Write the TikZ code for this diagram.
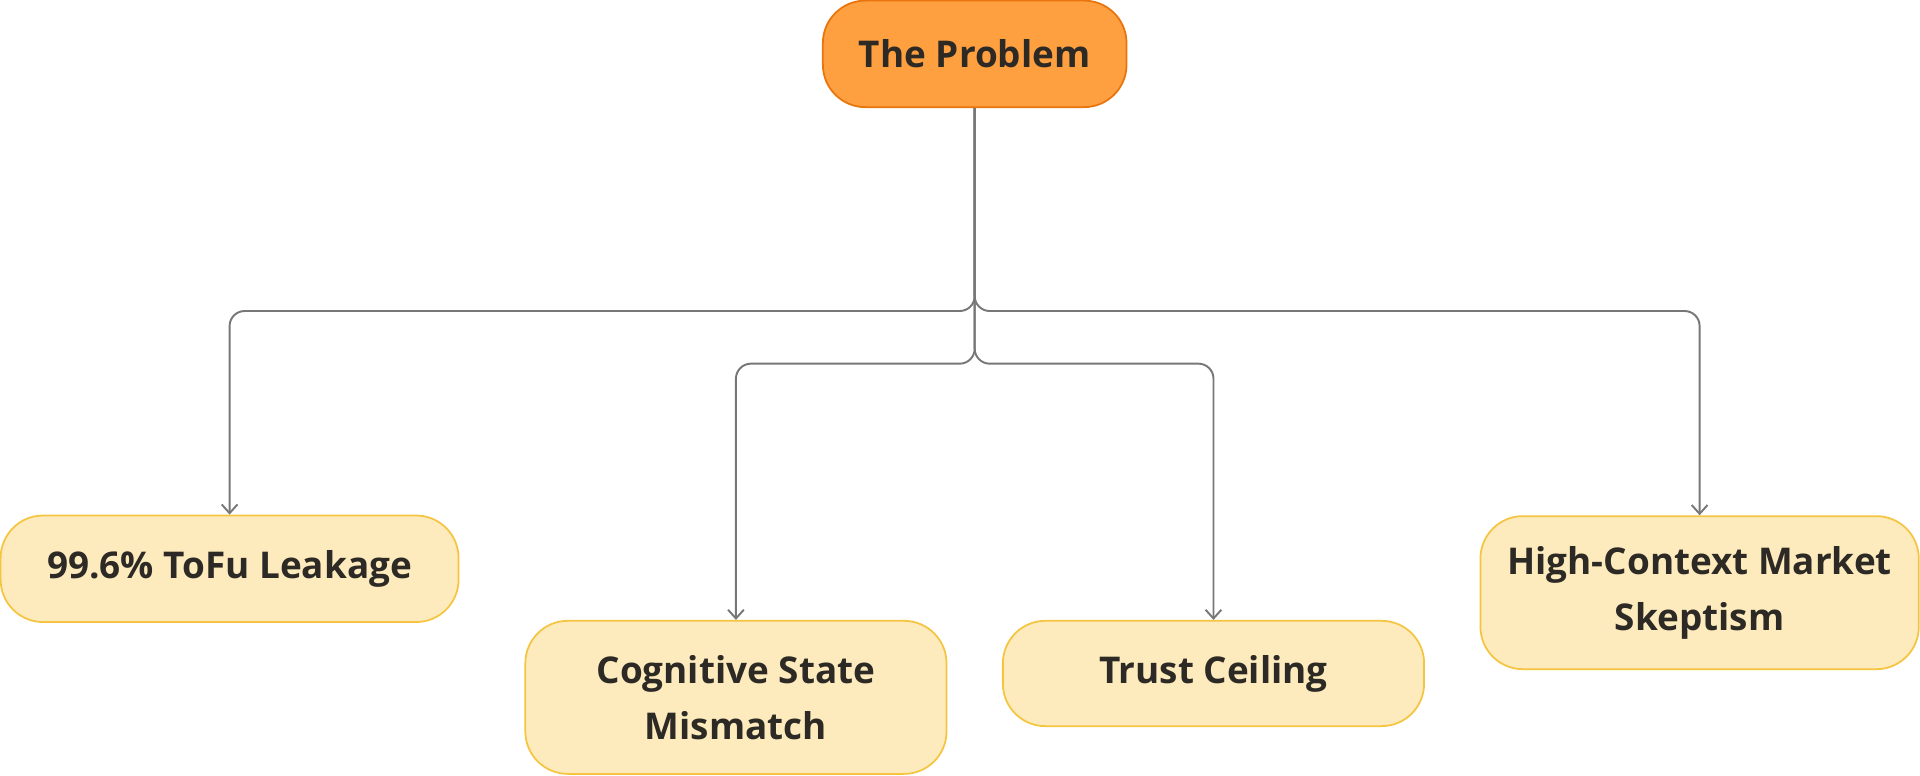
\documentclass[tikz,border=0pt]{standalone}
\usepackage{fontspec}
\setmainfont{Open Sans}
\usetikzlibrary{arrows.meta}
\definecolor{rootfill}{HTML}{FFA040}
\definecolor{rootline}{HTML}{E8740C}
\definecolor{leaffill}{HTML}{FDEBBD}
\definecolor{leafline}{HTML}{F5C542}
\definecolor{inktext}{HTML}{2D2A26}
\definecolor{wire}{HTML}{777777}
\begin{document}
\begin{tikzpicture}[x=0.0245cm,y=-0.0245cm,
        box/.style={rounded corners=0.85cm, align=center, text=inktext,
            font=\fontsize{21}{32}\selectfont\bfseries, line width=1pt,
            inner sep=0pt},
        root/.style={box, draw=rootline, fill=rootfill},
        leaf/.style={box, draw=leafline, fill=leaffill},
        conn/.style={draw=wire, line width=1.1pt, rounded corners=0.3cm,
            -{Straight Barb[length=5pt,width=9pt]}}]
        \useasboundingbox (0,0) rectangle (1568,633);
        %% Vertices
        \node [root, minimum width=248*0.0245cm, minimum height=87*0.0245cm] at (796,44) (P) {The Problem};
        \node [leaf, minimum width=374*0.0245cm, minimum height=87*0.0245cm] at (187.5,464.5) (T) {99.6\% ToFu Leakage};
        \node [leaf, minimum width=344*0.0245cm, minimum height=125*0.0245cm] at (601,569.5) (C) {Cognitive State\\Mismatch};
        \node [leaf, minimum width=344*0.0245cm, minimum height=86*0.0245cm] at (991,550) (R) {Trust Ceiling};
        \node [leaf, minimum width=358*0.0245cm, minimum height=125*0.0245cm] at (1388,484) (H) {High-Context Market\\Skeptism};
        %% Arcs
        \path [conn] (P.south) -- (796,254) -| (T.north);
        \path [conn] (P.south) -- (796,254) -| (H.north);
        \path [conn] (P.south) -- (796,297) -| (C.north);
        \path [conn] (P.south) -- (796,297) -| (R.north);
\end{tikzpicture}
\end{document}
